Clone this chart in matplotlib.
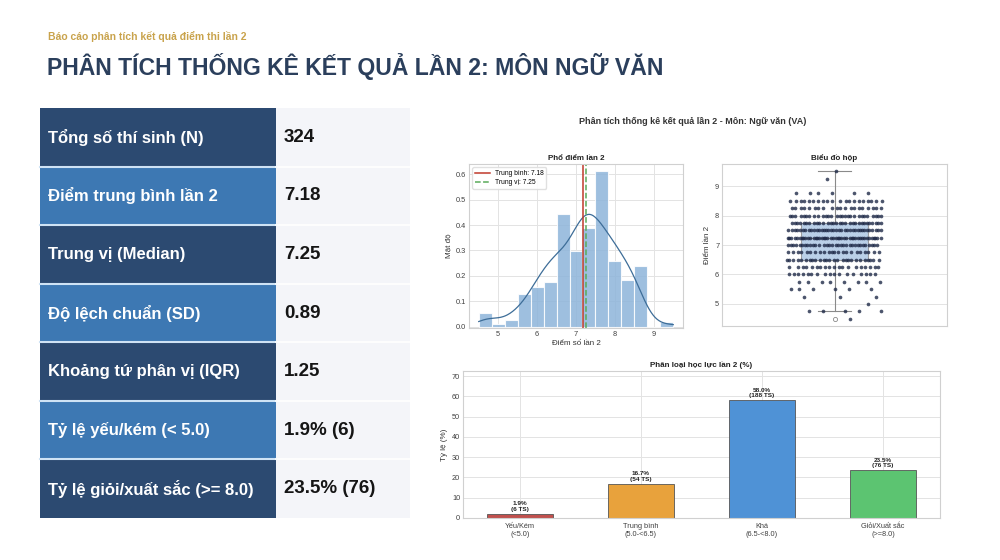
import numpy as np
import matplotlib
matplotlib.use("Agg")
import matplotlib.pyplot as plt
from matplotlib.patches import Rectangle
from matplotlib import font_manager

plt.rcParams['font.family'] = ['Liberation Sans', 'DejaVu Sans']
_names = {f.name for f in font_manager.fontManager.ttflist}
title_family = ['Liberation Sans Narrow', 'Liberation Sans', 'DejaVu Sans'] if 'Liberation Sans Narrow' in _names else ['Liberation Sans', 'DejaVu Sans']
title_size = 21 if 'Liberation Sans Narrow' in _names else 16.6

# ---------------- data ----------------
subtitle = "Báo cáo phân tích kết quả điểm thi lần 2"
title = "PHÂN TÍCH THỐNG KÊ KẾT QUẢ LẦN 2: MÔN NGỮ VĂN"
panel_title = "Phân tích thống kê kết quả lần 2 - Môn: Ngữ văn (VA)"

stat_labels = ["Tổng số thí sinh (N)", "Điểm trung bình lần 2", "Trung vị (Median)",
               "Độ lệch chuẩn (SD)", "Khoảng tứ phân vị (IQR)", "Tỷ lệ yếu/kém (< 5.0)",
               "Tỷ lệ giỏi/xuất sắc (>= 8.0)"]
stat_values = ["324", "7.18", "7.25", "0.89", "1.25", "1.9% (6)", "23.5% (76)"]

score_levels = [4.5, 4.75, 5.0, 5.25, 5.5, 5.75, 6.0, 6.25, 6.5, 6.75, 7.0,
                7.25, 7.5, 7.75, 8.0, 8.25, 8.5, 8.75, 9.0, 9.25, 9.5]
score_counts = [1, 5, 1, 3, 6, 8, 17, 19, 26, 22, 32,
                42, 36, 30, 28, 20, 20, 6, 0, 1, 1]

cat_labels = ["Yếu/Kém\n(<5.0)", "Trung bình\n(5.0-<6.5)", "Khá\n(6.5-<8.0)", "Giỏi/Xuất sắc\n(>=8.0)"]
cat_counts = [6, 54, 188, 76]
cat_colors = ["#c0504d", "#e8a23c", "#4f92d6", "#5cc471"]

# ---------------- figure ----------------
W, H = 1000, 560
fig = plt.figure(figsize=(10, 5.6), dpi=100)
fig.patch.set_facecolor("white")

def rect(l, t, r, b):
    return [l / W, 1 - b / H, (r - l) / W, (b - t) / H]

base = fig.add_axes([0, 0, 1, 1])
base.set_xlim(0, W)
base.set_ylim(H, 0)
base.axis("off")

base.text(48, 36, subtitle, color="#c9a34c", fontsize=7.5, fontweight="bold", va="center")
base.text(47, 67, title, color="#2b3f5c", fontsize=title_size, fontweight="bold", va="center",
          family=title_family)

# stats table
top, bottom = 108, 518
n_rows = len(stat_labels)
rh = (bottom - top) / n_rows
base.add_patch(Rectangle((276, top), 134, bottom - top, facecolor="#f4f5f9", edgecolor="none"))
dark, light = "#2c4a71", "#3d78b3"
for i, (lab, val) in enumerate(zip(stat_labels, stat_values)):
    y0 = top + i * rh
    base.add_patch(Rectangle((40, y0), 236, rh, facecolor=dark if i % 2 == 0 else light,
                             edgecolor="none"))
    if i > 0:
        base.plot([40, 276], [y0, y0], color="#cfe3f5", lw=1.5)
        base.plot([276, 410], [y0, y0], color="#ffffff", lw=1.2)
    base.text(48, y0 + rh / 2, lab, color="white", fontsize=12, fontweight="bold", va="center")
    base.text(284, y0 + rh / 2, val, color="#151515", fontsize=13.5, fontweight="bold", va="center")

base.text(693, 121, panel_title, color="#333333", fontsize=6.5, fontweight="bold",
          ha="center", va="center")

scores = np.repeat(np.array(score_levels), score_counts)
mean_v = scores.mean()
med_v = np.median(scores)

grid_c = "#e3e3e3"
spine_c = "#d0d0d0"
tick_c = "#404040"

def style(ax):
    ax.set_facecolor("white")
    for s in ax.spines.values():
        s.set_color(spine_c)
        s.set_linewidth(0.8)
    ax.grid(True, color=grid_c, lw=0.7)
    ax.set_axisbelow(True)
    ax.tick_params(labelsize=5.3, colors=tick_c, length=0, pad=2)

# ---- histogram ----
ax1 = fig.add_axes(rect(469, 164, 683, 328))
style(ax1)
edges = np.linspace(4.5, 9.5, 16)
ax1.hist(scores, bins=edges, density=True, color="#8db4da", alpha=0.85,
         edgecolor="white", linewidth=0.8)
bw = scores.std(ddof=1) * len(scores) ** (-1 / 5)
xs = np.linspace(scores.min(), scores.max(), 300)
kde = np.exp(-0.5 * ((xs[:, None] - scores[None, :]) / bw) ** 2).sum(axis=1) / (len(scores) * bw * np.sqrt(2 * np.pi))
ax1.plot(xs, kde, color="#3d6d98", lw=0.9)
ax1.axvline(mean_v, color="#c0392b", lw=1.1, label=f"Trung bình: {mean_v:.2f}")
ax1.axvline(med_v, color="#5aab5a", lw=1.1, ls="--", label=f"Trung vị: {med_v:.2f}")
ax1.set_xticks([5, 6, 7, 8, 9])
ax1.set_yticks([0.0, 0.1, 0.2, 0.3, 0.4, 0.5, 0.6])
ax1.set_ylim(-0.005, 0.64)
ax1.set_title("Phổ điểm lần 2", fontsize=5.8, fontweight="bold", color="#222222", pad=3)
ax1.set_xlabel("Điểm số lần 2", fontsize=5.8, color="#333333", labelpad=1.5)
ax1.set_ylabel("Mật độ", fontsize=5.8, color="#333333", labelpad=3)
ax1.legend(loc="upper left", fontsize=4.8, frameon=True, framealpha=0.9,
           edgecolor="#dddddd", handlelength=2.2, borderpad=0.4, labelspacing=0.3)

# ---- box plot ----
ax2 = fig.add_axes(rect(722, 164, 947, 326))
style(ax2)
ax2.boxplot(scores, positions=[0], widths=0.3, patch_artist=True,
            boxprops=dict(facecolor="#a9c5e3", edgecolor="#8a8a8a", linewidth=0.8, alpha=0.8),
            whiskerprops=dict(color="#8a8a8a", linewidth=0.8),
            capprops=dict(color="#8a8a8a", linewidth=0.8),
            medianprops=dict(color="#8a8a8a", linewidth=0.8),
            flierprops=dict(marker="o", markersize=3, markerfacecolor="white",
                            markeredgecolor="#8a8a8a", markeredgewidth=0.6))
golden = 0.6180339887
for lvl, cnt in zip(score_levels, score_counts):
    if cnt == 0:
        continue
    offs = ((np.arange(cnt) * golden + lvl * 0.37) % 1.0 - 0.5) * 0.42
    ax2.scatter(offs, np.full(cnt, lvl), s=7, color="#1f2a48", alpha=0.8,
                linewidths=0, zorder=3)
ax2.set_xlim(-0.5, 0.5)
ax2.set_ylim(4.25, 9.75)
ax2.set_xticks([])
ax2.set_yticks([5, 6, 7, 8, 9])
ax2.set_title("Biểu đồ hộp", fontsize=5.8, fontweight="bold", color="#222222", pad=3)
ax2.set_ylabel("Điểm lần 2", fontsize=5.8, color="#333333", labelpad=3)

# ---- bar chart ----
ax3 = fig.add_axes(rect(463, 371, 940, 518))
style(ax3)
total = sum(cat_counts)
pcts = [c / total * 100 for c in cat_counts]
xpos = np.arange(len(cat_labels))
bars = ax3.bar(xpos, pcts, width=0.55, color=cat_colors, edgecolor="#555555", linewidth=0.6)
for x, p, c in zip(xpos, pcts, cat_counts):
    ax3.text(x, p + 1.2, f"{p:.1f}%\n({c} TS)", ha="center", va="bottom",
             fontsize=4.6, fontweight="bold", color="#222222", linespacing=1.1)
ax3.set_xticks(xpos)
ax3.set_xticklabels(cat_labels, fontsize=5.3, color=tick_c, linespacing=1.2)
ax3.tick_params(axis="x", pad=3.5)
ax3.set_xlim(-0.47, 3.47)
ax3.set_ylim(0, max(pcts) * 1.25)
ax3.set_yticks([0, 10, 20, 30, 40, 50, 60, 70])
ax3.set_title("Phân loại học lực lần 2 (%)", fontsize=5.8, fontweight="bold", color="#222222", pad=3)
ax3.set_ylabel("Tỷ lệ (%)", fontsize=5.8, color="#333333", labelpad=3)

fig.savefig("out.png", dpi=100, facecolor="white")
